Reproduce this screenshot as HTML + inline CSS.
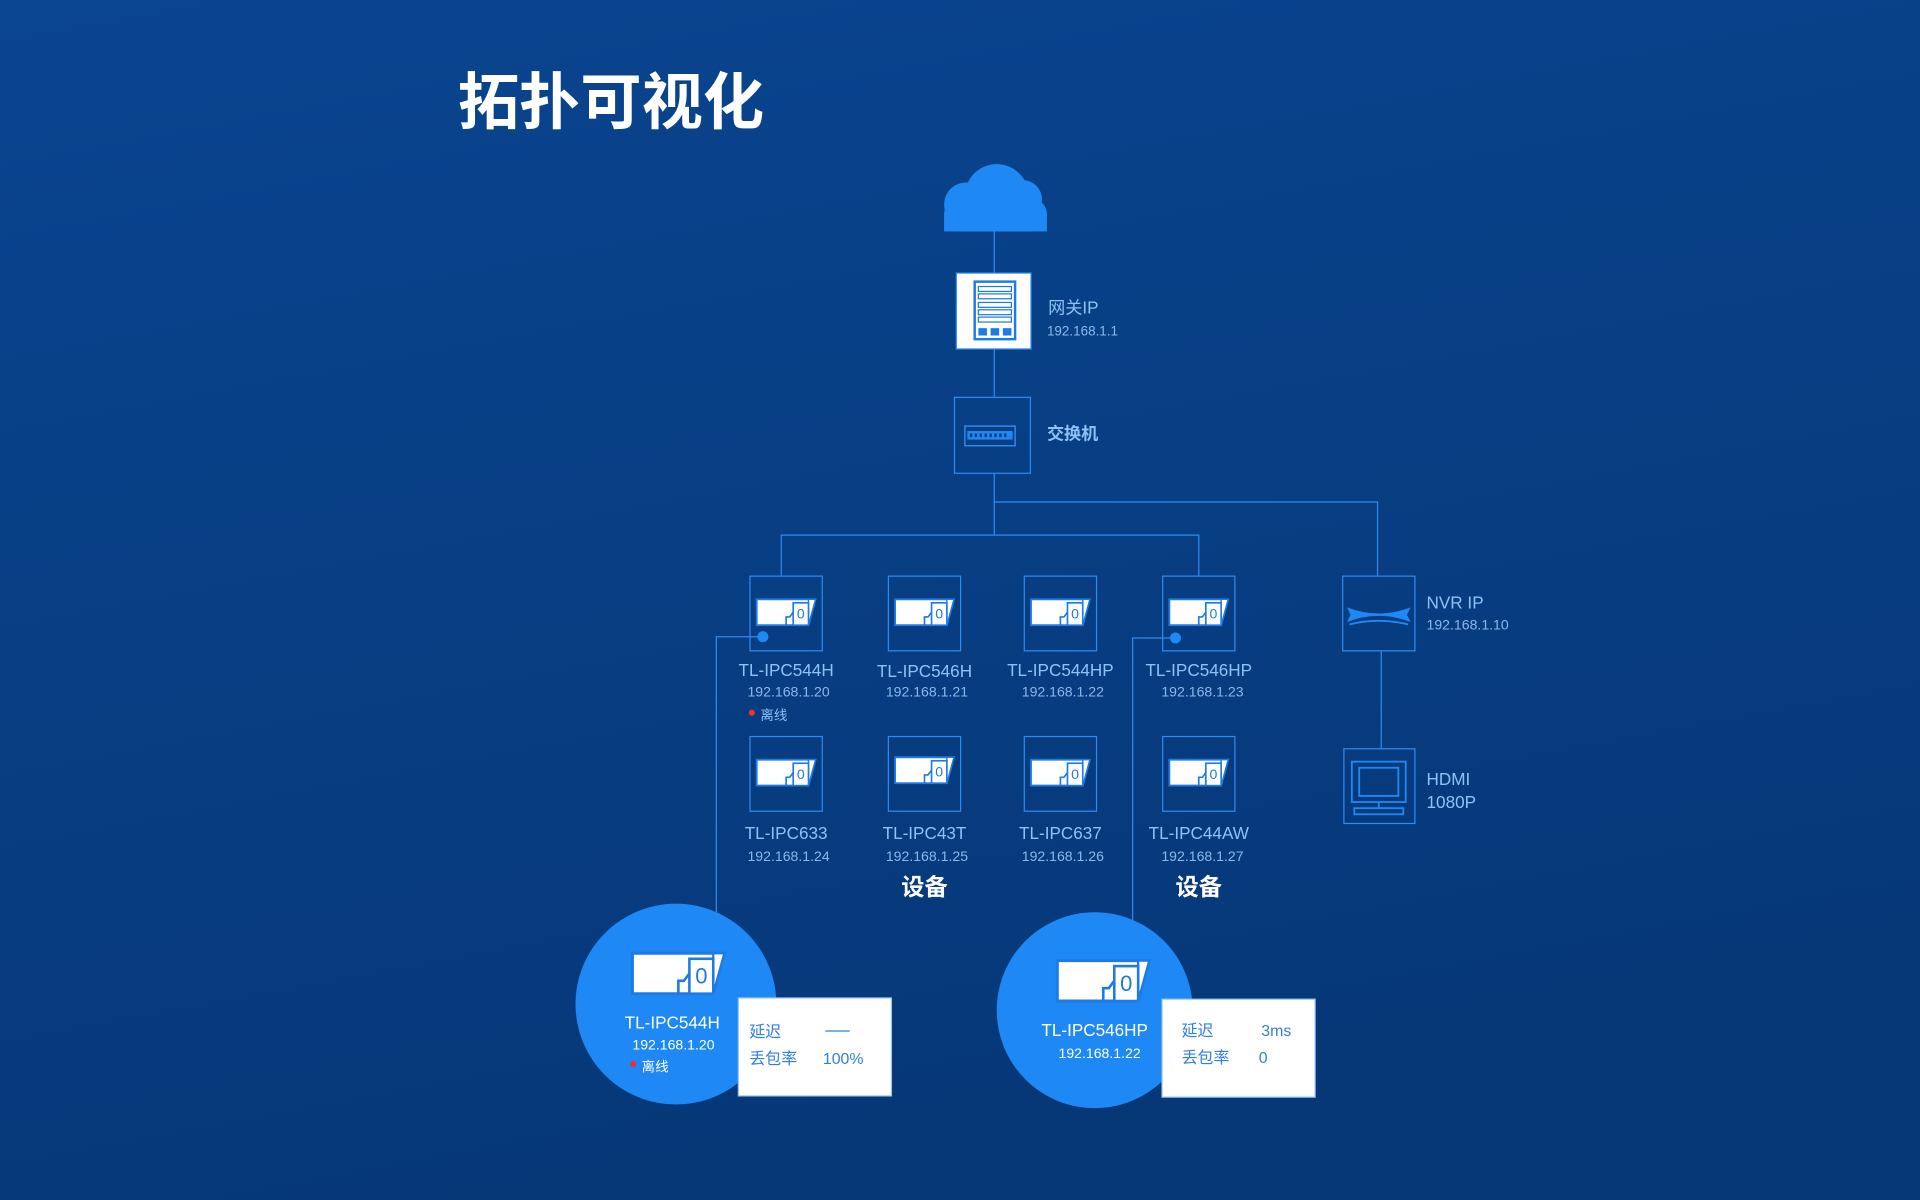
<!DOCTYPE html>
<html><head><meta charset="utf-8"><style>
html,body{margin:0;padding:0;width:1920px;height:1200px;overflow:hidden;background:#083f86}
svg{display:block}
text{font-family:"Liberation Sans","Noto Sans CJK SC",sans-serif}
</style></head><body>
<svg width="1920" height="1200" viewBox="0 0 1568 980" xmlns="http://www.w3.org/2000/svg">
<defs>
<linearGradient id="bg" x1="0" y1="0" x2="0.3" y2="1">
<stop offset="0" stop-color="#0a4590"/><stop offset="1" stop-color="#063878"/>
</linearGradient>
<symbol id="cam" viewBox="0 0 52 24" overflow="visible">
<path d="M1 1 H51 L45 23 H1 Z" fill="#fff" stroke="#1e7ae6" stroke-width="1.6"/>
<path d="M45 1 L51 1 L45 23 Z" fill="#fff" stroke="#1e7ae6" stroke-width="1.2"/>
<rect x="32" y="4" width="13" height="19" fill="#fff" stroke="#1e7ae6" stroke-width="1.4"/>
<path d="M26 23 V16 H29 L32 12" fill="none" stroke="#1e7ae6" stroke-width="1.4"/>
<text x="38.5" y="17.5" font-size="12" fill="#1e7ae6" text-anchor="middle">0</text>
</symbol>
</defs>
<rect width="1568" height="980" fill="url(#bg)"/>
<text x="374" y="101" font-size="50" font-weight="bold" fill="#fff">拓扑可视化</text>

<!-- cloud -->
<g fill="#1e88f5">
<circle cx="814" cy="160" r="26"/><circle cx="835" cy="163" r="16"/><circle cx="789" cy="167" r="18"/>
<rect x="771" y="162" width="84" height="27" rx="13"/>
</g>
<rect x="771" y="176" width="84" height="13" fill="#1e88f5"/>

<g stroke="#2f8af0" stroke-width="1" fill="none">
<line x1="812" y1="189" x2="812" y2="223"/>
<line x1="812" y1="285" x2="812" y2="324"/>
<line x1="812" y1="387" x2="812" y2="437"/>
<polyline points="638,470 638,437 979,437 979,470"/>
<polyline points="812,410 1125,410 1125,470"/>
<line x1="1128" y1="531" x2="1128" y2="611"/>
<polyline points="623,520 585,520 585,745"/>
<polyline points="960,521 925,521 925,752"/>
</g>

<!-- gateway -->
<rect x="781" y="223" width="61" height="62" fill="#fff" stroke="#2f8af0"/>
<g stroke="#1e7ae6" fill="none">
<rect x="796" y="230" width="33" height="47" stroke-width="2"/>
<rect x="799" y="234" width="27" height="4" stroke-width="1"/>
<rect x="799" y="240" width="27" height="4" stroke-width="1"/>
<rect x="799" y="247" width="27" height="4" stroke-width="1"/>
<rect x="799" y="253" width="27" height="4" stroke-width="1"/>
<rect x="799" y="259" width="27" height="4" stroke-width="1"/>
</g>
<g fill="#1e7ae6"><rect x="799" y="268" width="7" height="6"/><rect x="809" y="268" width="7" height="6"/><rect x="819" y="268" width="7" height="6"/></g>
<text x="856" y="256" font-size="14" fill="#8ec2f5">网关IP</text>
<text x="855" y="274" font-size="11" fill="#8ab8ec">192.168.1.1</text>

<!-- switch -->
<rect x="779.5" y="324.5" width="62" height="62" fill="none" stroke="#2f8af0"/>
<rect x="788" y="348" width="41" height="16" fill="#0b3d80" stroke="#2f8af0" stroke-width="1.2"/>
<rect x="790" y="352" width="37" height="7" fill="#1e88f5"/>
<g fill="#0b3d80"><rect x="792" y="354" width="2" height="3"/><rect x="796" y="354" width="2" height="3"/><rect x="800" y="354" width="2" height="3"/><rect x="804" y="354" width="2" height="3"/><rect x="808" y="354" width="2" height="3"/><rect x="812" y="354" width="2" height="3"/><rect x="816" y="354" width="2" height="3"/><rect x="820" y="354" width="2" height="3"/></g>
<text x="855" y="359" font-size="14" fill="#8ec2f5" font-weight="bold">交换机</text>

<!-- camera boxes -->
<g fill="none" stroke="#2f8af0">
<rect x="612.5" y="470.5" width="59" height="61"/><rect x="725.5" y="470.5" width="59" height="61"/>
<rect x="836.5" y="470.5" width="59" height="61"/><rect x="949.5" y="470.5" width="59" height="61"/>
<rect x="612.5" y="601.5" width="59" height="61"/><rect x="725.5" y="601.5" width="59" height="61"/>
<rect x="836.5" y="601.5" width="59" height="61"/><rect x="949.5" y="601.5" width="59" height="61"/>
</g>
<use href="#cam" x="617" y="488" width="50" height="24"/>
<use href="#cam" x="730" y="488" width="50" height="24"/>
<use href="#cam" x="841" y="488" width="50" height="24"/>
<use href="#cam" x="954" y="488" width="50" height="24"/>
<use href="#cam" x="617" y="619" width="50" height="24"/>
<use href="#cam" x="730" y="617" width="50" height="24"/>
<use href="#cam" x="841" y="619" width="50" height="24"/>
<use href="#cam" x="954" y="619" width="50" height="24"/>
<circle cx="623" cy="520" r="4.5" fill="#1e88f5"/>
<circle cx="960" cy="521" r="4.5" fill="#1e88f5"/>

<g text-anchor="middle">
<g font-size="14" fill="#8ec2f5">
<text x="642" y="552">TL-IPC544H</text><text x="755" y="553">TL-IPC546H</text>
<text x="866" y="552">TL-IPC544HP</text><text x="979" y="552">TL-IPC546HP</text>
<text x="642" y="685">TL-IPC633</text><text x="755" y="685">TL-IPC43T</text>
<text x="866" y="685">TL-IPC637</text><text x="979" y="685">TL-IPC44AW</text>
</g>
<g font-size="11.5" fill="#8ab8ec">
<text x="644" y="569">192.168.1.20</text><text x="757" y="569">192.168.1.21</text>
<text x="868" y="569">192.168.1.22</text><text x="982" y="569">192.168.1.23</text>
<text x="644" y="703">192.168.1.24</text><text x="757" y="703">192.168.1.25</text>
<text x="868" y="703">192.168.1.26</text><text x="982" y="703">192.168.1.27</text>
</g>
<text x="755" y="731" font-size="19" font-weight="bold" fill="#fff">设备</text>
<text x="979" y="731" font-size="19" font-weight="bold" fill="#fff">设备</text>
</g>
<circle cx="614" cy="582" r="2.5" fill="#f03030"/>
<text x="621" y="588" font-size="11" fill="#8ec2f5">离线</text>

<!-- NVR -->
<rect x="1096.5" y="470.5" width="59" height="61" fill="none" stroke="#2f8af0"/>
<path d="M1100 496 Q1126 506 1152 496 L1149 502 L1152 508 Q1126 498 1100 508 L1103 502 Z" fill="#1e88f5"/>
<path d="M1102 510 Q1126 504 1150 510" stroke="#1e88f5" stroke-width="1.5" fill="none"/>
<text x="1165" y="497" font-size="14" fill="#8ec2f5">NVR IP</text>
<text x="1165" y="514" font-size="11.5" fill="#8ab8ec">192.168.1.10</text>

<!-- HDMI -->
<rect x="1097.5" y="611.5" width="58" height="61" fill="none" stroke="#2f8af0"/>
<g fill="none" stroke="#1e88f5" stroke-width="1.5">
<rect x="1104" y="622" width="44" height="33"/><rect x="1110" y="627" width="32" height="23"/>
<line x1="1126" y1="655" x2="1126" y2="660"/><rect x="1106" y="660" width="40" height="5"/>
</g>
<text x="1165" y="641" font-size="14" fill="#8ec2f5">HDMI</text>
<text x="1165" y="660" font-size="14" fill="#8ec2f5">1080P</text>

<!-- big circle 1 -->
<circle cx="552" cy="820" r="82" fill="#1e88f5"/>
<use href="#cam" x="514" y="777" width="80" height="36"/>
<text x="549" y="840" font-size="14" fill="#fff" text-anchor="middle">TL-IPC544H</text>
<text x="550" y="857" font-size="11.5" fill="#fff" text-anchor="middle">192.168.1.20</text>
<circle cx="517" cy="869" r="2.5" fill="#f03030"/>
<text x="524" y="875" font-size="11" fill="#fff">离线</text>
<rect x="603" y="815" width="125" height="80" fill="#fff" stroke="#9cc4f0"/>
<g font-size="13" fill="#2f7fe0">
<text x="612" y="847">延迟</text><line x1="674" y1="842" x2="694" y2="842" stroke="#2f7fe0"/>
<text x="612" y="869">丢包率</text><text x="672" y="869">100%</text>
</g>

<!-- big circle 2 -->
<circle cx="894" cy="825" r="80" fill="#1e88f5"/>
<use href="#cam" x="861" y="783" width="80" height="36"/>
<text x="894" y="846" font-size="14" fill="#fff" text-anchor="middle">TL-IPC546HP</text>
<text x="898" y="864" font-size="11.5" fill="#fff" text-anchor="middle">192.168.1.22</text>
<rect x="949" y="816" width="125" height="80" fill="#fff" stroke="#9cc4f0"/>
<g font-size="13" fill="#2f7fe0">
<text x="965" y="846">延迟</text><text x="1030" y="846">3ms</text>
<text x="965" y="868">丢包率</text><text x="1028" y="868">0</text>
</g>
</svg>
</body></html>
